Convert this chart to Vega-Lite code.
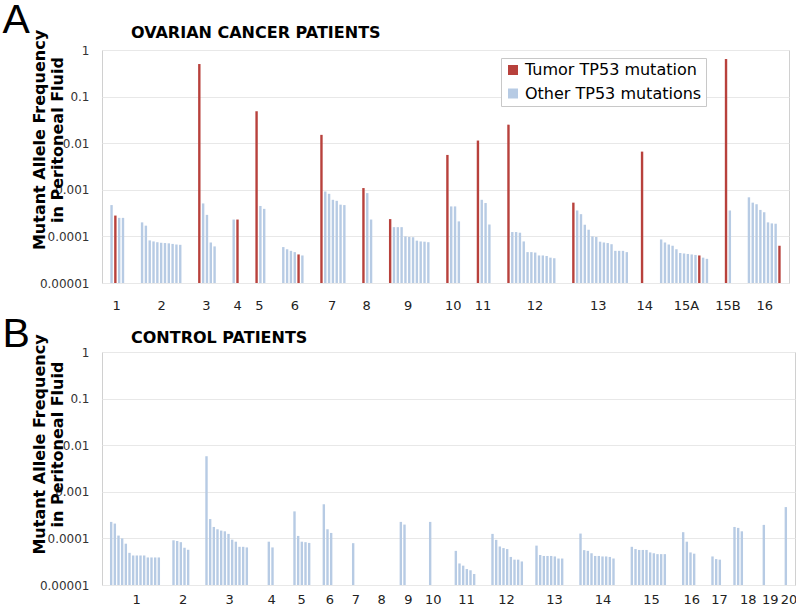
{
  "$schema": "https://vega.github.io/schema/vega-lite/v6.json",
  "padding": {"left": 2, "top": 0, "right": 0, "bottom": 0},
  "spacing": 0,
  "config": {
    "font": "DejaVu Sans",
    "view": {"stroke": "#d0d0d0", "strokeWidth": 1},
    "axis": {"labelColor": "#333333", "domain": false, "ticks": false, "tickSize": 0}
  },
  "resolve": {"scale": {"color": "independent", "x": "independent", "y": "independent"}},
  "datasets": {
    "ovarian": [
      {"slot": 2, "type": "Other TP53 mutations", "maf": 0.00047},
      {"slot": 3, "type": "Tumor TP53 mutation", "maf": 0.00028},
      {"slot": 4, "type": "Other TP53 mutations", "maf": 0.00025},
      {"slot": 5, "type": "Other TP53 mutations", "maf": 0.00025},
      {"slot": 10, "type": "Other TP53 mutations", "maf": 0.0002},
      {"slot": 11, "type": "Other TP53 mutations", "maf": 0.00017},
      {"slot": 12, "type": "Other TP53 mutations", "maf": 0.000082},
      {"slot": 13, "type": "Other TP53 mutations", "maf": 0.000078},
      {"slot": 14, "type": "Other TP53 mutations", "maf": 0.000075},
      {"slot": 15, "type": "Other TP53 mutations", "maf": 0.000073},
      {"slot": 16, "type": "Other TP53 mutations", "maf": 0.000072},
      {"slot": 17, "type": "Other TP53 mutations", "maf": 0.000071},
      {"slot": 18, "type": "Other TP53 mutations", "maf": 0.000069},
      {"slot": 19, "type": "Other TP53 mutations", "maf": 0.000067},
      {"slot": 20, "type": "Other TP53 mutations", "maf": 0.000066},
      {"slot": 25, "type": "Tumor TP53 mutation", "maf": 0.5},
      {"slot": 26, "type": "Other TP53 mutations", "maf": 0.00051},
      {"slot": 27, "type": "Other TP53 mutations", "maf": 0.00029},
      {"slot": 28, "type": "Other TP53 mutations", "maf": 0.000074},
      {"slot": 29, "type": "Other TP53 mutations", "maf": 0.000061},
      {"slot": 34, "type": "Other TP53 mutations", "maf": 0.00023},
      {"slot": 35, "type": "Tumor TP53 mutation", "maf": 0.00023},
      {"slot": 40, "type": "Tumor TP53 mutation", "maf": 0.0485},
      {"slot": 41, "type": "Other TP53 mutations", "maf": 0.00045},
      {"slot": 42, "type": "Other TP53 mutations", "maf": 0.00039},
      {"slot": 47, "type": "Other TP53 mutations", "maf": 0.000059},
      {"slot": 48, "type": "Other TP53 mutations", "maf": 0.000053},
      {"slot": 49, "type": "Other TP53 mutations", "maf": 0.000049},
      {"slot": 50, "type": "Other TP53 mutations", "maf": 0.000046},
      {"slot": 51, "type": "Tumor TP53 mutation", "maf": 0.000041},
      {"slot": 52, "type": "Other TP53 mutations", "maf": 0.000039},
      {"slot": 57, "type": "Tumor TP53 mutation", "maf": 0.0151},
      {"slot": 58, "type": "Other TP53 mutations", "maf": 0.00092},
      {"slot": 59, "type": "Other TP53 mutations", "maf": 0.00082},
      {"slot": 60, "type": "Other TP53 mutations", "maf": 0.00061},
      {"slot": 61, "type": "Other TP53 mutations", "maf": 0.00058},
      {"slot": 62, "type": "Other TP53 mutations", "maf": 0.00048},
      {"slot": 63, "type": "Other TP53 mutations", "maf": 0.00047},
      {"slot": 68, "type": "Tumor TP53 mutation", "maf": 0.00109},
      {"slot": 69, "type": "Other TP53 mutations", "maf": 0.00085},
      {"slot": 70, "type": "Other TP53 mutations", "maf": 0.00023},
      {"slot": 75, "type": "Tumor TP53 mutation", "maf": 0.000235},
      {"slot": 76, "type": "Other TP53 mutations", "maf": 0.000158},
      {"slot": 77, "type": "Other TP53 mutations", "maf": 0.000158},
      {"slot": 78, "type": "Other TP53 mutations", "maf": 0.000158},
      {"slot": 79, "type": "Other TP53 mutations", "maf": 0.0001},
      {"slot": 80, "type": "Other TP53 mutations", "maf": 0.000097},
      {"slot": 81, "type": "Other TP53 mutations", "maf": 0.000096},
      {"slot": 82, "type": "Other TP53 mutations", "maf": 0.000081},
      {"slot": 83, "type": "Other TP53 mutations", "maf": 0.000078},
      {"slot": 84, "type": "Other TP53 mutations", "maf": 0.000077},
      {"slot": 85, "type": "Other TP53 mutations", "maf": 0.000075},
      {"slot": 90, "type": "Tumor TP53 mutation", "maf": 0.0056},
      {"slot": 91, "type": "Other TP53 mutations", "maf": 0.00044},
      {"slot": 92, "type": "Other TP53 mutations", "maf": 0.00044},
      {"slot": 93, "type": "Other TP53 mutations", "maf": 0.00021},
      {"slot": 98, "type": "Tumor TP53 mutation", "maf": 0.0114},
      {"slot": 99, "type": "Other TP53 mutations", "maf": 0.00061},
      {"slot": 100, "type": "Other TP53 mutations", "maf": 0.00052},
      {"slot": 101, "type": "Other TP53 mutations", "maf": 0.00018},
      {"slot": 106, "type": "Tumor TP53 mutation", "maf": 0.025},
      {"slot": 107, "type": "Other TP53 mutations", "maf": 0.000124},
      {"slot": 108, "type": "Other TP53 mutations", "maf": 0.000124},
      {"slot": 109, "type": "Other TP53 mutations", "maf": 0.00012},
      {"slot": 110, "type": "Other TP53 mutations", "maf": 0.000078},
      {"slot": 111, "type": "Other TP53 mutations", "maf": 0.000046},
      {"slot": 112, "type": "Other TP53 mutations", "maf": 0.000046},
      {"slot": 113, "type": "Other TP53 mutations", "maf": 0.000045},
      {"slot": 114, "type": "Other TP53 mutations", "maf": 0.000039},
      {"slot": 115, "type": "Other TP53 mutations", "maf": 0.000039},
      {"slot": 116, "type": "Other TP53 mutations", "maf": 0.000038},
      {"slot": 117, "type": "Other TP53 mutations", "maf": 0.000035},
      {"slot": 118, "type": "Other TP53 mutations", "maf": 0.000034},
      {"slot": 123, "type": "Tumor TP53 mutation", "maf": 0.00053},
      {"slot": 124, "type": "Other TP53 mutations", "maf": 0.00036},
      {"slot": 125, "type": "Other TP53 mutations", "maf": 0.0003},
      {"slot": 126, "type": "Other TP53 mutations", "maf": 0.000178},
      {"slot": 127, "type": "Other TP53 mutations", "maf": 0.000139},
      {"slot": 128, "type": "Other TP53 mutations", "maf": 0.0001},
      {"slot": 129, "type": "Other TP53 mutations", "maf": 0.000097},
      {"slot": 130, "type": "Other TP53 mutations", "maf": 0.000077},
      {"slot": 131, "type": "Other TP53 mutations", "maf": 0.000074},
      {"slot": 132, "type": "Other TP53 mutations", "maf": 0.000072},
      {"slot": 133, "type": "Other TP53 mutations", "maf": 0.000068},
      {"slot": 134, "type": "Other TP53 mutations", "maf": 0.000049},
      {"slot": 135, "type": "Other TP53 mutations", "maf": 0.000049},
      {"slot": 136, "type": "Other TP53 mutations", "maf": 0.000049},
      {"slot": 137, "type": "Other TP53 mutations", "maf": 0.000046},
      {"slot": 141, "type": "Tumor TP53 mutation", "maf": 0.0066},
      {"slot": 146, "type": "Other TP53 mutations", "maf": 0.000086},
      {"slot": 147, "type": "Other TP53 mutations", "maf": 0.000074},
      {"slot": 148, "type": "Other TP53 mutations", "maf": 0.000067},
      {"slot": 149, "type": "Other TP53 mutations", "maf": 0.000063},
      {"slot": 150, "type": "Other TP53 mutations", "maf": 0.000053},
      {"slot": 151, "type": "Other TP53 mutations", "maf": 0.000044},
      {"slot": 152, "type": "Other TP53 mutations", "maf": 0.000043},
      {"slot": 153, "type": "Other TP53 mutations", "maf": 0.000042},
      {"slot": 154, "type": "Other TP53 mutations", "maf": 0.000041},
      {"slot": 155, "type": "Other TP53 mutations", "maf": 0.00004},
      {"slot": 156, "type": "Tumor TP53 mutation", "maf": 0.000039},
      {"slot": 157, "type": "Other TP53 mutations", "maf": 0.000035},
      {"slot": 158, "type": "Other TP53 mutations", "maf": 0.000033},
      {"slot": 163, "type": "Tumor TP53 mutation", "maf": 0.64},
      {"slot": 164, "type": "Other TP53 mutations", "maf": 0.00036},
      {"slot": 169, "type": "Other TP53 mutations", "maf": 0.00069},
      {"slot": 170, "type": "Other TP53 mutations", "maf": 0.00053},
      {"slot": 171, "type": "Other TP53 mutations", "maf": 0.00049},
      {"slot": 172, "type": "Other TP53 mutations", "maf": 0.00037},
      {"slot": 173, "type": "Other TP53 mutations", "maf": 0.00033},
      {"slot": 174, "type": "Other TP53 mutations", "maf": 0.0002},
      {"slot": 175, "type": "Other TP53 mutations", "maf": 0.00019},
      {"slot": 176, "type": "Other TP53 mutations", "maf": 0.000187},
      {"slot": 177, "type": "Tumor TP53 mutation", "maf": 0.000063}
    ],
    "control": [
      {"slot": 2, "type": "Other TP53 mutations", "maf": 0.000226},
      {"slot": 3, "type": "Other TP53 mutations", "maf": 0.000208},
      {"slot": 4, "type": "Other TP53 mutations", "maf": 0.000115},
      {"slot": 5, "type": "Other TP53 mutations", "maf": 0.0001},
      {"slot": 6, "type": "Other TP53 mutations", "maf": 0.000077},
      {"slot": 7, "type": "Other TP53 mutations", "maf": 0.000049},
      {"slot": 8, "type": "Other TP53 mutations", "maf": 0.000043},
      {"slot": 9, "type": "Other TP53 mutations", "maf": 0.000043},
      {"slot": 10, "type": "Other TP53 mutations", "maf": 0.000043},
      {"slot": 11, "type": "Other TP53 mutations", "maf": 0.000043},
      {"slot": 12, "type": "Other TP53 mutations", "maf": 0.000039},
      {"slot": 13, "type": "Other TP53 mutations", "maf": 0.000039},
      {"slot": 14, "type": "Other TP53 mutations", "maf": 0.000039},
      {"slot": 15, "type": "Other TP53 mutations", "maf": 0.000039},
      {"slot": 19, "type": "Other TP53 mutations", "maf": 0.000091},
      {"slot": 20, "type": "Other TP53 mutations", "maf": 0.000088},
      {"slot": 21, "type": "Other TP53 mutations", "maf": 0.000083},
      {"slot": 22, "type": "Other TP53 mutations", "maf": 0.000063},
      {"slot": 23, "type": "Other TP53 mutations", "maf": 0.000057},
      {"slot": 28, "type": "Other TP53 mutations", "maf": 0.0058},
      {"slot": 29, "type": "Other TP53 mutations", "maf": 0.00026},
      {"slot": 30, "type": "Other TP53 mutations", "maf": 0.000176},
      {"slot": 31, "type": "Other TP53 mutations", "maf": 0.000157},
      {"slot": 32, "type": "Other TP53 mutations", "maf": 0.000147},
      {"slot": 33, "type": "Other TP53 mutations", "maf": 0.000142},
      {"slot": 34, "type": "Other TP53 mutations", "maf": 0.000125},
      {"slot": 35, "type": "Other TP53 mutations", "maf": 0.000094},
      {"slot": 36, "type": "Other TP53 mutations", "maf": 0.000085},
      {"slot": 37, "type": "Other TP53 mutations", "maf": 0.000066},
      {"slot": 38, "type": "Other TP53 mutations", "maf": 0.000066},
      {"slot": 39, "type": "Other TP53 mutations", "maf": 0.000064},
      {"slot": 45, "type": "Other TP53 mutations", "maf": 0.000085},
      {"slot": 46, "type": "Other TP53 mutations", "maf": 0.000064},
      {"slot": 52, "type": "Other TP53 mutations", "maf": 0.00038},
      {"slot": 53, "type": "Other TP53 mutations", "maf": 0.000113},
      {"slot": 54, "type": "Other TP53 mutations", "maf": 0.000085},
      {"slot": 55, "type": "Other TP53 mutations", "maf": 0.000083},
      {"slot": 56, "type": "Other TP53 mutations", "maf": 0.00008},
      {"slot": 60, "type": "Other TP53 mutations", "maf": 0.00054},
      {"slot": 61, "type": "Other TP53 mutations", "maf": 0.000157},
      {"slot": 62, "type": "Other TP53 mutations", "maf": 0.000131},
      {"slot": 68, "type": "Other TP53 mutations", "maf": 0.000079},
      {"slot": 81, "type": "Other TP53 mutations", "maf": 0.000226},
      {"slot": 82, "type": "Other TP53 mutations", "maf": 0.000198},
      {"slot": 89, "type": "Other TP53 mutations", "maf": 0.000226},
      {"slot": 96, "type": "Other TP53 mutations", "maf": 0.000054},
      {"slot": 97, "type": "Other TP53 mutations", "maf": 0.000029},
      {"slot": 98, "type": "Other TP53 mutations", "maf": 0.000026},
      {"slot": 99, "type": "Other TP53 mutations", "maf": 0.000022},
      {"slot": 100, "type": "Other TP53 mutations", "maf": 0.0000207},
      {"slot": 101, "type": "Other TP53 mutations", "maf": 0.0000172},
      {"slot": 106, "type": "Other TP53 mutations", "maf": 0.000125},
      {"slot": 107, "type": "Other TP53 mutations", "maf": 0.000093},
      {"slot": 108, "type": "Other TP53 mutations", "maf": 0.000067},
      {"slot": 109, "type": "Other TP53 mutations", "maf": 0.000062},
      {"slot": 110, "type": "Other TP53 mutations", "maf": 0.000059},
      {"slot": 111, "type": "Other TP53 mutations", "maf": 0.00004},
      {"slot": 112, "type": "Other TP53 mutations", "maf": 0.000035},
      {"slot": 113, "type": "Other TP53 mutations", "maf": 0.000035},
      {"slot": 114, "type": "Other TP53 mutations", "maf": 0.000032},
      {"slot": 118, "type": "Other TP53 mutations", "maf": 0.00007},
      {"slot": 119, "type": "Other TP53 mutations", "maf": 0.000044},
      {"slot": 120, "type": "Other TP53 mutations", "maf": 0.000042},
      {"slot": 121, "type": "Other TP53 mutations", "maf": 0.000042},
      {"slot": 122, "type": "Other TP53 mutations", "maf": 0.000042},
      {"slot": 123, "type": "Other TP53 mutations", "maf": 0.000041},
      {"slot": 124, "type": "Other TP53 mutations", "maf": 0.000037},
      {"slot": 125, "type": "Other TP53 mutations", "maf": 0.000037},
      {"slot": 130, "type": "Other TP53 mutations", "maf": 0.000127},
      {"slot": 131, "type": "Other TP53 mutations", "maf": 0.000056},
      {"slot": 132, "type": "Other TP53 mutations", "maf": 0.000054},
      {"slot": 133, "type": "Other TP53 mutations", "maf": 0.000048},
      {"slot": 134, "type": "Other TP53 mutations", "maf": 0.000042},
      {"slot": 135, "type": "Other TP53 mutations", "maf": 0.000042},
      {"slot": 136, "type": "Other TP53 mutations", "maf": 0.000041},
      {"slot": 137, "type": "Other TP53 mutations", "maf": 0.000041},
      {"slot": 138, "type": "Other TP53 mutations", "maf": 0.00004},
      {"slot": 139, "type": "Other TP53 mutations", "maf": 0.000037},
      {"slot": 144, "type": "Other TP53 mutations", "maf": 0.000066},
      {"slot": 145, "type": "Other TP53 mutations", "maf": 0.000059},
      {"slot": 146, "type": "Other TP53 mutations", "maf": 0.0000565},
      {"slot": 147, "type": "Other TP53 mutations", "maf": 0.0000565},
      {"slot": 148, "type": "Other TP53 mutations", "maf": 0.0000565},
      {"slot": 149, "type": "Other TP53 mutations", "maf": 0.00005},
      {"slot": 150, "type": "Other TP53 mutations", "maf": 0.000048},
      {"slot": 151, "type": "Other TP53 mutations", "maf": 0.000046},
      {"slot": 152, "type": "Other TP53 mutations", "maf": 0.000046},
      {"slot": 153, "type": "Other TP53 mutations", "maf": 0.000046},
      {"slot": 158, "type": "Other TP53 mutations", "maf": 0.000136},
      {"slot": 159, "type": "Other TP53 mutations", "maf": 0.000085},
      {"slot": 160, "type": "Other TP53 mutations", "maf": 0.00005},
      {"slot": 161, "type": "Other TP53 mutations", "maf": 0.000047},
      {"slot": 166, "type": "Other TP53 mutations", "maf": 0.000041},
      {"slot": 167, "type": "Other TP53 mutations", "maf": 0.000036},
      {"slot": 168, "type": "Other TP53 mutations", "maf": 0.000035},
      {"slot": 172, "type": "Other TP53 mutations", "maf": 0.000176},
      {"slot": 173, "type": "Other TP53 mutations", "maf": 0.000168},
      {"slot": 174, "type": "Other TP53 mutations", "maf": 0.000142},
      {"slot": 180, "type": "Other TP53 mutations", "maf": 0.000195},
      {"slot": 186, "type": "Other TP53 mutations", "maf": 0.00047}
    ]
  },
  "vconcat": [
    {
      "title": {"text": "A", "anchor": "start", "frame": "bounds", "dx": -28, "offset": -17.5, "fontSize": 41, "fontWeight": "normal", "font": "Liberation Sans", "color": "black"},
      "resolve": {"scale": {"color": "independent"}},
      "vconcat": [
        {
          "title": {"text": "OVARIAN CANCER PATIENTS", "anchor": "start", "frame": "group", "dx": 29, "offset": -12, "fontSize": 16, "fontWeight": "bold", "color": "black"},
          "width": 687,
          "height": 233,
          "data": {"name": "ovarian"},
          "mark": {"type": "bar", "size": 2.4},
          "encoding": {
            "x": {
              "field": "slot", "type": "quantitative",
              "scale": {"domain": [-0.5, 179.5], "nice": false, "zero": false, "padding": 0},
              "axis": {
                "title": null, "grid": false,
                "values": [3.2, 15, 26.7, 34.9, 40.6, 49.9, 59.7, 68.7, 79.6, 91.4, 99.2, 112.8, 129.4, 141.6, 152.5, 163.4, 173],
                "labelExpr": "['1','2','3','4','5','6','7','8','9','10','11','12','13','14','15A','15B','16'][indexof([3.2, 15, 26.7, 34.9, 40.6, 49.9, 59.7, 68.7, 79.6, 91.4, 99.2, 112.8, 129.4, 141.6, 152.5, 163.4, 173], datum.value)]",
                "labelFlush": false, "labelOverlap": false, "labelFontSize": 13, "labelPadding": 16, "labelColor": "#222222"
              }
            },
            "y": {
              "field": "maf", "type": "quantitative",
              "scale": {"type": "log", "domain": [0.00001, 1], "nice": false},
              "axis": {
                "values": [0.00001, 0.0001, 0.001, 0.01, 0.1, 1],
                "format": "~f", "grid": true, "gridColor": "#e8e8e8",
                "labelFontSize": 12, "labelPadding": 13, "labelOverlap": false,
                "title": ["Mutant Allele Frequency", "in Peritoneal Fluid"],
                "titleFontSize": 16, "titleFontWeight": "bold", "titleColor": "black",
                "titleAngle": 270, "titleAlign": "center", "titleBaseline": "alphabetic",
                "titleX": -58, "titleY": 89.5, "titleLineHeight": 18.5
              }
            },
            "y2": {"datum": 0.00001},
            "color": {
              "field": "type", "type": "nominal",
              "scale": {"domain": ["Tumor TP53 mutation", "Other TP53 mutations"], "range": ["#b8413c", "#b7cbe4"]},
              "legend": {
                "orient": "none", "legendX": 399, "legendY": 8, "title": null,
                "symbolType": "square", "symbolSize": 100, "symbolStrokeWidth": 0,
                "labelFontSize": 16, "labelColor": "black", "labelOffset": 4, "labelLimit": 400,
                "strokeColor": "#c8c8c8", "fillColor": "white", "padding": 4, "rowPadding": 7.5
              }
            }
          }
        }
      ]
    },
    {
      "title": {"text": "B", "anchor": "start", "frame": "bounds", "dx": -28, "offset": -26, "fontSize": 41, "fontWeight": "normal", "font": "Liberation Sans", "color": "black"},
      "resolve": {"scale": {"color": "independent"}},
      "vconcat": [
        {
          "title": {"text": "CONTROL PATIENTS", "anchor": "start", "frame": "group", "dx": 29, "offset": -12.5, "fontSize": 16, "fontWeight": "bold", "color": "black"},
          "width": 693,
          "height": 233,
          "data": {"name": "control"},
          "mark": {"type": "bar", "size": 2.4},
          "encoding": {
            "x": {
              "field": "slot", "type": "quantitative",
              "scale": {"domain": [-0.5, 188.5], "nice": false, "zero": false, "padding": 0},
              "axis": {
                "title": null, "grid": false,
                "values": [8.8, 21.5, 34.2, 45.6, 53.8, 61.5, 68.6, 75.6, 82.9, 89.7, 98.8, 109.7, 122.8, 136, 149.2, 160.2, 167.8, 175.6, 181.6, 186.7],
                "labelExpr": "['1','2','3','4','5','6','7','8','9','10','11','12','13','14','15','16','17','18','19','20'][indexof([8.8, 21.5, 34.2, 45.6, 53.8, 61.5, 68.6, 75.6, 82.9, 89.7, 98.8, 109.7, 122.8, 136, 149.2, 160.2, 167.8, 175.6, 181.6, 186.7], datum.value)]",
                "labelFlush": false, "labelOverlap": false, "labelFontSize": 13, "labelPadding": 8, "labelColor": "#222222"
              }
            },
            "y": {
              "field": "maf", "type": "quantitative",
              "scale": {"type": "log", "domain": [0.00001, 1], "nice": false},
              "axis": {
                "values": [0.00001, 0.0001, 0.001, 0.01, 0.1, 1],
                "format": "~f", "grid": true, "gridColor": "#e8e8e8",
                "labelFontSize": 12, "labelPadding": 13, "labelOverlap": false,
                "title": ["Mutant Allele Frequency", "in Peritoneal Fluid"],
                "titleFontSize": 16, "titleFontWeight": "bold", "titleColor": "black",
                "titleAngle": 270, "titleAlign": "center", "titleBaseline": "alphabetic",
                "titleX": -58, "titleY": 92, "titleLineHeight": 18.5
              }
            },
            "y2": {"datum": 0.00001},
            "color": {
              "field": "type", "type": "nominal",
              "scale": {"domain": ["Tumor TP53 mutation", "Other TP53 mutations"], "range": ["#b8413c", "#b7cbe4"]},
              "legend": null
            }
          }
        }
      ]
    }
  ]
}
